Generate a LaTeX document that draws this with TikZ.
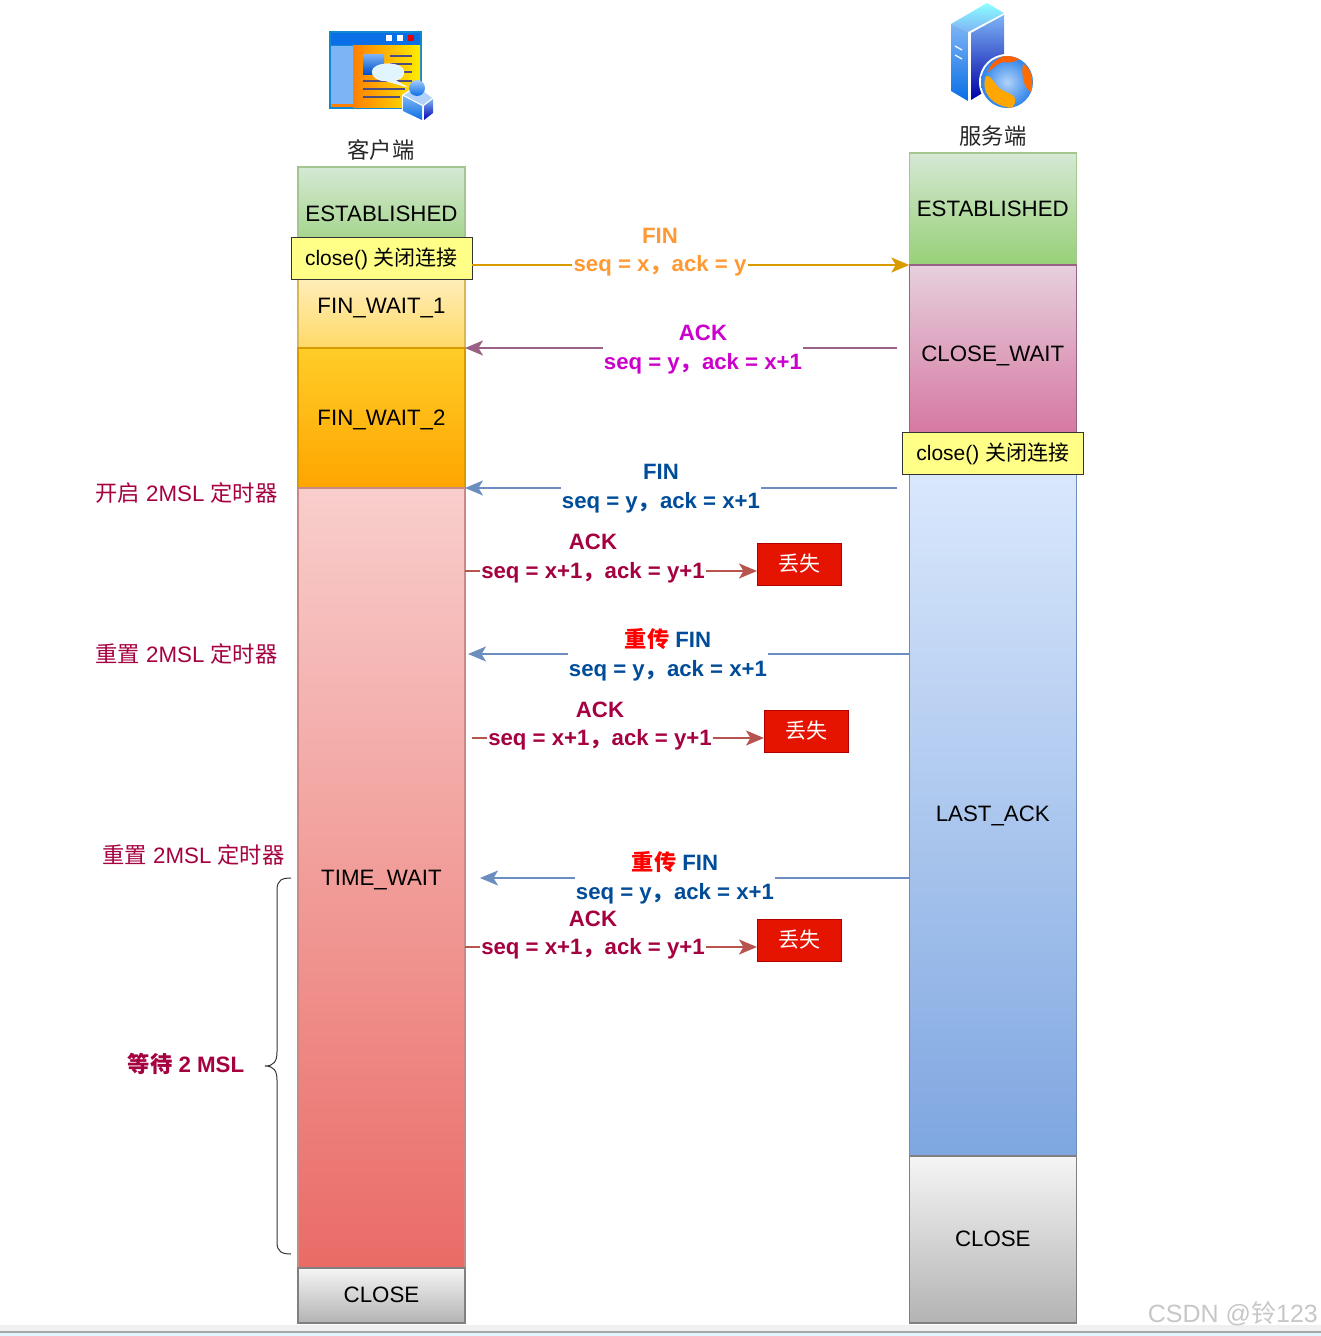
\documentclass[tikz,border=0pt]{standalone}
\usepackage{fontspec}
\setmainfont{Liberation Sans}
\newfontfamily\cjkfam{Noto Sans CJK SC}
\newcommand{\zh}[1]{{\cjkfam #1}}
\usetikzlibrary{arrows.meta,calc}
\definecolor{ackred}{HTML}{A50040}
\definecolor{finblue}{HTML}{004C99}
\definecolor{finorange}{HTML}{FF9933}
\definecolor{ackmag}{HTML}{CC00CC}
\tikzset{
  base/.style={font=\fontsize{22.3}{29}\selectfont},
  state/.style={base,draw,line width=1.3pt,shade,minimum width=167,text height=15.5pt,text depth=1.5pt,inner sep=0pt,outer sep=0pt},
  estab/.style={state,draw=estd,top color=est1,bottom color=est2},
  fwone/.style={state,draw=fw1d,top color=fw1a,bottom color=fw1b},
  fwtwo/.style={state,draw=fw2d,top color=fw2a,bottom color=fw2b},
  timew/.style={state,draw=twd,top color=twa,bottom color=twb},
  closest/.style={state,draw=cld,top color=cla,bottom color=clb},
  closew/.style={state,draw=cwd,top color=cwa,bottom color=cwb},
  lastack/.style={state,draw=lad,top color=laa,bottom color=lab},
  callbox/.style={font=\fontsize{21}{26}\selectfont,draw=black!80,line width=1pt,fill=callfill,minimum width=181,minimum height=42,inner sep=0pt,outer sep=0pt,text height=18pt,text depth=3.5pt},
  lostbox/.style={font=\fontsize{21}{26}\selectfont,text=white,draw=lostd,line width=1pt,fill=lostf,minimum width=84,minimum height=42,inner sep=0pt,outer sep=0pt},
  msg/.style={font=\fontsize{22.2}{29}\selectfont\bfseries,align=center,inner sep=1pt,text=#1},
  note/.style={base,text=ackred},
  caption/.style={base,text=black!85},
  flow/.style={line width=2pt,draw=#1},
  flowarrow/.style={line width=2pt,draw=#1,-{Stealth[length=18pt,width=15pt,inset=4.5pt]}},
}
\definecolor{est1}{HTML}{D5E8D4}\definecolor{est2}{HTML}{97D077}\definecolor{estd}{HTML}{A3C68F}
\definecolor{fw1a}{HTML}{FFF2CC}\definecolor{fw1b}{HTML}{FFD966}\definecolor{fw1d}{HTML}{D6B656}
\definecolor{fw2a}{HTML}{FFCD28}\definecolor{fw2b}{HTML}{FFA500}\definecolor{fw2d}{HTML}{D79B00}
\definecolor{twa}{HTML}{F8CECC}\definecolor{twb}{HTML}{EA6B66}\definecolor{twd}{HTML}{C98A86}
\definecolor{cla}{HTML}{F5F5F5}\definecolor{clb}{HTML}{B3B3B3}\definecolor{cld}{HTML}{808080}
\definecolor{cwa}{HTML}{E6D0DE}\definecolor{cwb}{HTML}{D5739D}\definecolor{cwd}{HTML}{996185}
\definecolor{laa}{HTML}{DAE8FC}\definecolor{lab}{HTML}{7EA6E0}\definecolor{lad}{HTML}{6C8EBF}
\definecolor{callfill}{HTML}{FFFF88}
\definecolor{lostf}{HTML}{E51400}\definecolor{lostd}{HTML}{B20000}
\definecolor{arrorange}{HTML}{D79B00}\definecolor{arrpurple}{HTML}{996185}
\definecolor{arrblue}{HTML}{6C8EBF}\definecolor{arrred}{HTML}{B85450}
\definecolor{iconblue}{HTML}{0A6EE6}\definecolor{iconlight}{HTML}{7DB4F5}
\begin{document}
\begin{tikzpicture}[x=1pt,y=-1pt]
\useasboundingbox (0,0) rectangle (1321,1336);

% bottom strip
\fill[black!6] (0,1325) rectangle (1321,1331);
\fill[black!35] (0,1331) rectangle (1321,1333);
\fill[cyan!12!white] (0,1333) rectangle (1321,1336);

% client icon
\fill[cyan!70!blue] (329,31) rectangle (422,109);
\fill[iconblue] (331,33) rectangle (420,45);
\fill[white] (386,34.5) rectangle (392,40.5);
\fill[white] (397,34.5) rectangle (403,40.5);
\fill[red!90!black] (408,34.5) rectangle (414,40.5);
\shade[left color=orange,right color=yellow!85!orange] (353,45) rectangle (420,107);
\fill[orange] (331,104) rectangle (353,107);
\fill[iconlight] (331,46) rectangle (353,104);
\shade[top color=iconlight,bottom color=blue!60!cyan!80!black] (363,54) rectangle (384,74);
\foreach \ya/\xa/\xb in {56/390/412,64/390/412,72/390/412,81/363/412,89/363/405,97/363/400}
  \draw[line width=2pt,draw=blue!30!black!70] (\xa,\ya) -- (\xb,\ya);
\fill[cyan!12!white,draw=white] (372,72) .. controls (372,61) and (404,61) .. (404,72) .. controls (404,78) and (398,80) .. (395,80) -- (407,87) -- (386,81) .. controls (378,81) and (372,77) .. (372,72) -- cycle;
\fill[white] (402,95) -- (418,84) -- (434,98) -- (434,114) -- (423,122) -- (402,112) -- cycle;
\shade[top color=iconlight,bottom color=iconblue] (403,96) -- (422,106) -- (422,120) -- (403,111) -- cycle;
\shade[top color=iconlight,bottom color=blue!70!black] (424,106) -- (433,99) -- (433,113) -- (424,120) -- cycle;
\fill[iconlight!60!white] (404,95) -- (418,87) -- (432,98) -- (423,105) -- cycle;
\shade[top color=iconlight!70!white,bottom color=iconblue] (417,88) circle (8);

% server icon
\shade[top color=cyan!45!white,bottom color=iconlight] (951,24) -- (987,3) -- (1004,13) -- (968,32) -- cycle;
\shade[top color=iconlight,bottom color=iconblue] (951,24) -- (968,32) -- (968,101) -- (951,91) -- cycle;
\shade[top color=iconlight,bottom color=blue!65!black] (971,33) -- (1004,15) -- (1004,80) -- (971,100) -- cycle;
\draw[white,line width=1.2pt] (955,46) -- (962,50) (955,55) -- (962,59);
\fill[white] (1007,82) circle (28);
\begin{scope}
\clip (1007,82) circle (26);
\shade[inner color=iconlight!60!white,outer color=iconblue!85!white] (981,56) rectangle (1033,108);
\fill[orange!75!red] (988,72) .. controls (992,55) and (1018,50) .. (1024,58) .. controls (1016,60) and (1012,64) .. (1004,62) .. controls (998,62) and (994,68) .. (988,72) -- cycle;
\fill[orange!85!red] (1023,64) .. controls (1030,66) and (1035,80) .. (1031,92) .. controls (1024,88) and (1021,76) .. (1023,64) -- cycle;
\fill[orange!70!yellow] (986,76) .. controls (994,76) and (994,88) .. (1006,92) .. controls (1016,96) and (1018,100) .. (1012,108) .. controls (992,106) and (980,92) .. (986,76) -- cycle;
\end{scope}

% captions
\node[caption] (clientcap) at (381,150) {\zh{客户端}};
\node[caption] (servercap) at (993,136) {\zh{服务端}};

% client column
\node[estab,minimum height=94] (cest) at (381.5,214) {ESTABLISHED};
\node[fwone,minimum height=84] (cfw1) at (381.5,306) {FIN\_WAIT\_1};
\node[fwtwo,minimum height=140] (cfw2) at (381.5,418) {FIN\_WAIT\_2};
\node[timew,minimum height=780] (ctw) at (381.5,878) {TIME\_WAIT};
\node[closest,minimum height=55] (ccl) at (381.5,1295.5) {CLOSE};
\node[callbox] (cclose) at (381.5,258) {close() \zh{关闭连接}};

% server column
\node[estab,minimum height=112] (sest) at (992.8,209) {ESTABLISHED};
\node[closew,minimum height=178] (scw) at (992.8,354) {CLOSE\_WAIT};
\node[lastack,minimum height=690] (sla) at (992.8,814) {LAST\_ACK};
\node[closest,minimum height=167] (scl) at (992.8,1239.5) {CLOSE};
\node[callbox] (sclose) at (992.8,453) {close() \zh{关闭连接}};

% lost boxes
\node[lostbox] (lostA) at (799,564) {\zh{丢失}};
\node[lostbox] (lostB) at (806,731) {\zh{丢失}};
\node[lostbox] (lostC) at (799,940) {\zh{丢失}};

% message labels
\node[msg=finorange] (m1t) at (660,235.5) {FIN};
\node[msg=finorange] (m1) at (660,266) {seq = x\zh{，}ack = y};
\node[msg=ackmag] (m2) at (703,349.5) {ACK\\seq = y\zh{，}ack = x+1};
\node[msg=finblue] (m3) at (661,489) {FIN\\seq = y\zh{，}ack = x+1};
\node[msg=ackred] (m4t) at (593,542) {ACK};
\node[msg=ackred] (m4) at (593,572.5) {seq = x+1\zh{，}ack = y+1};
\node[msg=finblue] (m5) at (668,654.5) {\textcolor{red}{\zh{重传}} FIN\\seq = y\zh{，}ack = x+1};
\node[msg=ackred] (m6t) at (600,710) {ACK};
\node[msg=ackred] (m6) at (600,739.5) {seq = x+1\zh{，}ack = y+1};
\node[msg=finblue] (m7) at (675,877.5) {\textcolor{red}{\zh{重传}} FIN\\seq = y\zh{，}ack = x+1};
\node[msg=ackred] (m8t) at (593,919) {ACK};
\node[msg=ackred] (m8) at (593,948.5) {seq = x+1\zh{，}ack = y+1};

% free ends and line levels
\coordinate (l1) at (0,265);
\coordinate (l4) at (0,571);
\coordinate (l6) at (0,738);
\coordinate (l8) at (0,947);
\coordinate (f2) at (897,348);
\coordinate (f3) at (897,488);
\coordinate (t5) at (468,654);
\coordinate (t7) at (480,878);
\coordinate (s6) at (472,738);

% connectors
\draw[flow=arrorange] (l1 -| cclose.east) -- (l1 -| m1.west);
\draw[flowarrow=arrorange] (l1 -| m1.east) -- (sest.south west);
\draw[flow=arrpurple] (f2) -- (f2 -| m2.east);
\draw[flowarrow=arrpurple] (f2 -| m2.west) -- (cfw2.north east);
\draw[flow=arrblue] (f3) -- (f3 -| m3.east);
\draw[flowarrow=arrblue] (f3 -| m3.west) -- (ctw.north east);
\draw[flow=arrred] (l4 -| ctw.east) -- (l4 -| m4.west);
\draw[flowarrow=arrred] (l4 -| m4.east) -- (l4 -| lostA.west);
\draw[flow=arrblue] (t5 -| sla.west) -- (t5 -| m5.east);
\draw[flowarrow=arrblue] (t5 -| m5.west) -- (t5);
\draw[flow=arrred] (s6) -- (l6 -| m6.west);
\draw[flowarrow=arrred] (l6 -| m6.east) -- (l6 -| lostB.west);
\draw[flow=arrblue] (t7 -| sla.west) -- (t7 -| m7.east);
\draw[flowarrow=arrblue] (t7 -| m7.west) -- (t7);
\draw[flow=arrred] (l8 -| ctw.east) -- (l8 -| m8.west);
\draw[flowarrow=arrred] (l8 -| m8.east) -- (l8 -| lostC.west);

% left notes
\node[note] (n1) at (186.5,493) {\zh{开启} 2MSL \zh{定时器}};
\node[note] (n2) at (186.5,654) {\zh{重置} 2MSL \zh{定时器}};
\node[note] (n3) at (193.5,855) {\zh{重置} 2MSL \zh{定时器}};
\node[note,font=\fontsize{22.3}{29}\selectfont\bfseries] (n4) at (186,1064) {\zh{等待} 2 MSL};

% brace
\draw[line width=1pt,black!80] (291,878) .. controls (282,878) and (277,880) .. (277,890) -- (277,1052) .. controls (277,1061) and (274,1066) .. (265,1066) .. controls (274,1066) and (277,1071) .. (277,1080) -- (277,1242) .. controls (277,1252) and (282,1254) .. (291,1254);

% watermark
\node[font=\fontsize{25}{30}\selectfont,text=black!22,anchor=east,inner sep=0pt] (wm) at (1318,1314) {CSDN @\zh{铃}123};
\end{tikzpicture}
\end{document}
